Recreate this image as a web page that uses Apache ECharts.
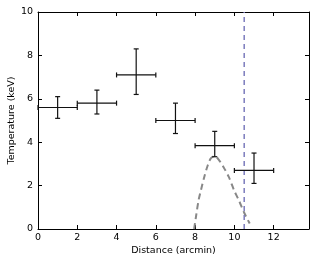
<!DOCTYPE html>
<html><head><meta charset="utf-8">
<script src="https://cdn.jsdelivr.net/npm/echarts@6/dist/echarts.min.js"></script>
<style>html,body{margin:0;padding:0;background:#fff}#c{width:316px;height:264px}</style>
</head><body><div id="c"></div>
<script>
// Data
const distance = [1, 3, 5, 7, 9, 11];
const distErr = [1, 1, 1, 1, 1, 1];
const temperature = [5.6, 5.8, 7.1, 5.0, 3.84, 2.7];
const tempLow = [5.1, 5.3, 6.2, 4.4, 3.33, 2.1];
const tempHigh = [6.1, 6.4, 8.3, 5.8, 4.5, 3.5];
const modelX = [7.95, 8.05, 8.18, 8.3, 8.47, 8.65, 8.8, 9.0, 9.2, 9.45, 9.71, 10.0, 10.22, 10.5, 10.78];
const modelY = [0, 0.6, 1.34, 1.8, 2.41, 2.95, 3.25, 3.36, 3.2, 2.85, 2.41, 1.75, 1.34, 0.75, 0.25];
const markerX = 10.5;
const yRange = [0, 10];
const xTicks = [0, 2, 4, 6, 8, 10, 12];
const yTicks = [0, 2, 4, 6, 8, 10];

const font = 'DejaVu Sans';
const chart = echarts.init(document.getElementById('c'), null, {renderer: 'canvas'});
const errData = distance.map((x, i) => [x, temperature[i], distErr[i], tempLow[i], tempHigh[i]]);
const axisCommon = {
  min: 0,
  axisLine: {show: true, onZero: false, lineStyle: {color: '#000', width: 1}},
  axisTick: {show: true, inside: true, length: 4, lineStyle: {color: '#000', width: 1}},
  splitLine: {show: false}
};
chart.setOption({
  animation: false,
  grid: {left: 38, right: 7, top: 12, bottom: 35, containLabel: false, outerBoundsMode: 'none'},
  xAxis: [
    Object.assign({}, axisCommon, {
      type: 'value', position: 'bottom', max: 13.8, interval: 2,
      name: 'Distance (arcmin)', nameLocation: 'middle', nameGap: 17, nameMoveOverlap: false,
      nameTextStyle: {fontFamily: font, fontSize: 9.5, color: '#000'},
      axisLabel: {fontFamily: font, fontSize: 9.5, color: '#000', margin: 4, showMaxLabel: false,
        formatter: v => xTicks.includes(v) ? String(v) : ''}
    }),
    Object.assign({}, axisCommon, {
      type: 'value', position: 'top', max: 13.8, interval: 2,
      axisLabel: {show: false}
    })
  ],
  yAxis: [
    Object.assign({}, axisCommon, {
      type: 'value', position: 'left', max: 10, interval: 2,
      name: 'Temperature (keV)', nameLocation: 'middle', nameGap: 21, nameMoveOverlap: false,
      nameTextStyle: {fontFamily: font, fontSize: 9.5, color: '#000'},
      axisLabel: {fontFamily: font, fontSize: 9.5, color: '#000', margin: 5,
        formatter: v => yTicks.includes(v) ? String(v) : ''}
    }),
    Object.assign({}, axisCommon, {
      type: 'value', position: 'right', max: 10, interval: 2,
      axisLabel: {show: false}
    })
  ],
  series: [
    {
      type: 'line', xAxisIndex: 0, yAxisIndex: 0,
      data: modelX.map((x, i) => [x, modelY[i]]),
      showSymbol: false, symbol: 'none', smooth: 0.3,
      lineStyle: {color: '#888888', width: 2, type: [6, 4]}
    },
    {
      type: 'line', xAxisIndex: 0, yAxisIndex: 0,
      data: [[markerX, yRange[0]], [markerX, yRange[1]]],
      showSymbol: false, symbol: 'none',
      lineStyle: {color: '#7b7bbd', width: 1.5, type: [5, 4]}
    },
    {
      type: 'custom', xAxisIndex: 0, yAxisIndex: 0,
      data: errData,
      renderItem: function (params, api) {
        const x = api.value(0), y = api.value(1), xe = api.value(2), yl = api.value(3), yh = api.value(4);
        const c = api.coord([x, y]);
        const l = api.coord([x - xe, y]);
        const r = api.coord([x + xe, y]);
        const lo = api.coord([x, yl]);
        const hi = api.coord([x, yh]);
        const st = {stroke: '#111', lineWidth: 1.2, fill: null};
        const cap = 2.5;
        const seg = (x1, y1, x2, y2) => ({type: 'line', shape: {x1, y1, x2, y2}, style: st});
        return {type: 'group', children: [
          seg(l[0], c[1], r[0], c[1]),
          seg(c[0], lo[1], c[0], hi[1]),
          seg(c[0] - cap, lo[1], c[0] + cap, lo[1]),
          seg(c[0] - cap, hi[1], c[0] + cap, hi[1]),
          seg(l[0], c[1] - cap, l[0], c[1] + cap),
          seg(r[0], c[1] - cap, r[0], c[1] + cap)
        ]};
      },
      z: 5
    }
  ]
});
</script></body></html>
